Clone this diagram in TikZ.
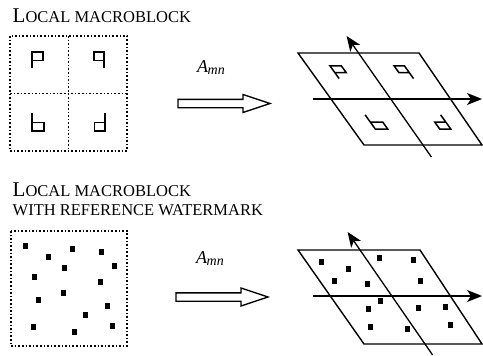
\documentclass[tikz,border=0pt]{standalone}
\usepackage{fontspec}
\setmainfont{Liberation Serif}
\usetikzlibrary{arrows.meta}
\newcommand{\bigsz}{\fontsize{21}{24}\selectfont}
\newcommand{\smsz}{\fontsize{16.5}{19}\selectfont}
\begin{document}
\begin{tikzpicture}[x=1pt,y=-1pt,
  frame/.style={line width=1.6pt, dash pattern=on 1.6pt off 2pt},
  glyph/.style={line width=1.5pt, line join=miter},
  para/.style={line width=1.4pt, line join=miter},
  axis/.style={line width=1.3pt, -{Stealth[length=15pt,width=12pt,inset=4pt]}},
  hollow/.style={line width=1.4pt, line join=miter},
  lbl/.style={anchor=base west, inner sep=0pt},
  amn/.style={anchor=base west, inner sep=0pt, font=\fontsize{18}{20}\selectfont\itshape},
  ]
\useasboundingbox (0,0) rectangle (483,356);

% ---------- labels ----------
\node[lbl] (t1) at (12.5,22.7) {\bigsz L\smsz OCAL MACROBLOCK};
\node[lbl] (t2) at (12.5,196) {\bigsz L\smsz OCAL MACROBLOCK};
\node[lbl] (t3) at (12.5,215) {\smsz WITH REFERENCE WATERMARK};

% ---------- top left: local macroblock ----------
\draw[frame] (10,36) rectangle (127,151);
\draw[frame] (68.5,36) -- (68.5,151);
\draw[frame] (10,93.5) -- (127,93.5);
\newcommand{\glyphset}{%
  \draw[glyph] (32,68) -- (32,52) -- (43,52) -- (43,60.5) -- (32,60.5);
  \draw[glyph] (104,68) -- (104,52) -- (94,52) -- (94,60.5) -- (104,60.5);
  \draw[glyph] (32,113.3) -- (32,131) -- (44,131) -- (44,122.3) -- (32,122.3);
  \draw[glyph] (105,113.3) -- (105,131) -- (94.3,131) -- (94.3,122.3) -- (105,122.3);
}
\glyphset

% ---------- top arrow ----------
\node[amn] (a1) at (197,72.7) {A\kern-0.5pt\raisebox{-2pt}{\fontsize{14}{14}\selectfont mn}};
\draw[hollow] (178,99.3) -- (243,99.3) -- (243,94.5) -- (270,103.5) -- (243,112.5) -- (243,107.7) -- (178,107.7) -- cycle;

% ---------- top right: transformed block ----------
\coordinate (p1) at (298,53);
\coordinate (p2) at (419,53);
\coordinate (p3) at (482,145);
\coordinate (p4) at (364,145);
\draw[para] (p1) -- (p2) -- (p3) -- (p4) -- cycle;
\coordinate (h1) at (313,99);
\coordinate (h2) at (482,99);
\coordinate (v1) at (431.4,157);
\coordinate (v2) at (346.6,36);
\draw[axis] (h1) -- (h2);
\draw[axis] (v1) -- (v2);
\begin{scope}[cm={1.034,0,-0.574,0.8,(267pt,-24.2pt)}]
  \glyphset
\end{scope}

% ---------- bottom left: watermark ----------
\draw[frame] (11,231) rectangle (127,346);
\foreach \x/\y in {25/245.7,72.7/248.7,101.7/251.7,48.7/257,64.3/267.7,114.3/266,
  34.3/277.3,100/282.3,63.3/292.7,38.3/300.3,107.7/306,85.7/315,33.3/327,112/325.7,74/332.3}
  \fill (\x-2.5,\y-3) rectangle (\x+2.5,\y+3);

% ---------- bottom arrow ----------
\node[amn] (a2) at (196,263) {A\kern-0.5pt\raisebox{-2pt}{\fontsize{14}{14}\selectfont mn}};
\draw[hollow] (176,292.8) -- (241,292.8) -- (241,288) -- (268,297) -- (241,306) -- (241,301.2) -- (176,301.2) -- cycle;

% ---------- bottom right ----------
\coordinate (q1) at (298,250);
\coordinate (q2) at (420,250);
\coordinate (q3) at (482,344);
\coordinate (q4) at (364,344);
\draw[para] (q1) -- (q2) -- (q3) -- (q4) -- cycle;
\coordinate (k1) at (313,296);
\coordinate (k2) at (482,296);
\coordinate (w1) at (432.6,355);
\coordinate (w2) at (347.6,232);
\draw[axis] (k1) -- (k2);
\draw[axis] (w1) -- (w2);
\foreach \x/\y in {321.7/261.7,348.7/268.7,379.3/258,413.3/259.7,334.3/280.7,367.7/283.7,
  420/280.7,380.7/301.3,368.7/308.7,418.7/308.3,445/306.7,370.7/327.3,407/329,450.3/325.3}
  \fill (\x-2.5,\y-3) rectangle (\x+2.5,\y+3);
\end{tikzpicture}
\end{document}
